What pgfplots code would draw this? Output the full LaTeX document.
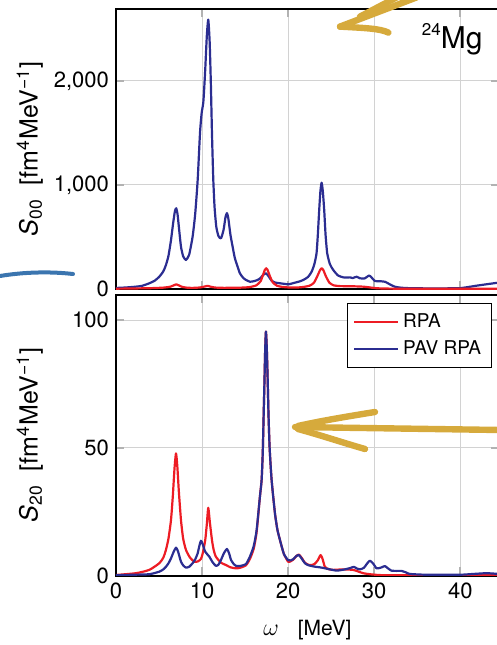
\documentclass[border=0pt]{standalone}
\usepackage{pgfplots}
\pgfplotsset{compat=1.18}
\usepackage{fontspec}
\setmainfont{TeX Gyre Heros}
\definecolor{rpared}{RGB}{237,28,36}
\definecolor{pavblue}{RGB}{43,45,145}
\definecolor{hlyellow}{RGB}{214,170,60}
\definecolor{hlblue}{RGB}{59,117,175}
\begin{document}
\begin{tikzpicture}
\path[use as bounding box] (0pt,0pt) rectangle (248.5pt,322.5pt);
\clip (0pt,0pt) rectangle (248.5pt,322.5pt);
\pgfplotsset{
  common/.style={scale only axis, width=191.5pt, xmin=0, xmax=44.5,
    xtick={0,10,20,30,40}, grid=major,
    grid style={gray!35, line width=0.5pt},
    axis line style={black, line width=1pt},
    tick style={gray!60, line width=0.8pt}, major tick length=4pt, tick align=inside,
    /pgf/number format/assume math mode=true,
    ticklabel style={font=\fontsize{11}{13}\selectfont},
    label style={font=\fontsize{12.5}{14}\selectfont},
    every axis plot/.append style={line width=1.1pt, line join=round},
    ylabel style={at={(axis description cs:-0.225,0.5)}, anchor=center},
  }
}
% ---------------- top axis: S00 ----------------
\begin{axis}[common, at={(58pt,178pt)}, anchor=south west, height=140pt,
  ymin=0, ymax=2692, ytick={0,1000,2000}, xticklabels={},
  ylabel={\textit{S}\textsubscript{00}\hspace{0.55em}[fm\textsuperscript{4}MeV\textsuperscript{−1}]}]
\addplot[pavblue, smooth, tension=0.35] coordinates {
(0,10) (1,14) (2,20) (3,30) (3.87,55) (4.5,80) (5.03,118) (5.5,170) (5.8,230) (6.1,320)
(6.39,470) (6.65,640) (6.85,750) (7.0,776) (7.15,720) (7.35,560) (7.55,407) (7.8,315)
(8.13,279) (8.5,330) (8.9,503) (9.2,720) (9.49,1048) (9.76,1500) (9.95,1690) (10.15,1800)
(10.35,2080) (10.55,2430) (10.72,2590) (10.88,2380) (11.02,1980) (11.15,1500) (11.3,1060)
(11.45,790) (11.65,600) (11.9,510) (12.2,487) (12.5,570) (12.72,690) (12.89,730) (13.05,680)
(13.3,520) (13.55,407) (13.8,300) (14.13,214) (14.4,150) (14.8,105) (15.1,87) (15.56,70)
(16.0,75) (16.4,85) (16.72,100) (17.1,135) (17.42,151) (17.75,120) (18.08,80) (18.5,62)
(19.05,55) (19.5,50) (20.02,45) (20.4,52) (20.79,61) (21.3,72) (21.76,87) (22.3,115)
(22.73,166) (23.05,240) (23.3,343) (23.45,520) (23.61,760) (23.75,940) (23.89,1022)
(24.03,940) (24.19,760) (24.35,520) (24.54,343) (24.85,240) (25.24,183) (25.8,130)
(26.4,112) (26.8,110) (27.18,112) (27.5,105) (27.95,118) (28.34,103) (28.9,102) (29.4,130)
(29.7,110) (30.08,77) (30.6,75) (31.24,70) (31.7,50) (32.4,22) (33.2,12) (34.15,8) (36,6)
(38,6) (39.95,8) (41,20) (41.9,32) (43,45) (44.5,62)
};
\addplot[rpared, smooth, tension=0.35] coordinates {
(0,3) (2,5) (4,8) (5.5,13) (6.3,22) (6.7,35) (7.0,45) (7.3,35) (7.7,20) (8.3,12) (9.0,11)
(9.8,15) (10.3,24) (10.65,30) (11.0,22) (11.5,14) (12.5,11) (13.5,12) (14.5,13) (15.5,18)
(16.3,35) (16.8,75) (17.1,140) (17.3,185) (17.45,199) (17.6,185) (17.85,130) (18.2,65)
(18.7,32) (19.3,20) (20.2,14) (21.0,14) (21.8,20) (22.5,32) (23.0,60) (23.4,125) (23.7,180)
(23.9,199) (24.1,180) (24.4,120) (24.8,60) (25.3,35) (26,28) (27,27) (28,25) (28.8,22)
(29.5,15) (30.2,8) (31,5) (33,3) (44.5,2)
};
\node[anchor=north east, inner sep=0pt, font=\fontsize{15}{15}\selectfont]
  at (rel axis cs:0.958,0.95) {{\fontsize{8.5}{8.5}\selectfont\raisebox{6.5pt}{24}}Mg};
\end{axis}
% ---------------- bottom axis: S20 ----------------
\begin{axis}[common, at={(58pt,34.75pt)}, anchor=south west, height=140.5pt,
  ymin=0, ymax=110, ytick={0,50,100},
  ylabel={\textit{S}\textsubscript{20}\hspace{0.55em}[fm\textsuperscript{4}MeV\textsuperscript{−1}]},
  xlabel={{\fontsize{13}{13}\selectfont$\omega$}\hspace{0.9em}[MeV]},
  xlabel style={at={(axis description cs:0.5,-0.194)}, anchor=center, font=\fontsize{10.5}{12}\selectfont},
  legend style={at={(rel axis cs:0.981,0.970)}, anchor=north east, draw=black, line width=0.6pt,
    font=\fontsize{9.5}{11}\selectfont, inner xsep=3pt, inner ysep=3pt, row sep=1pt},
  legend cell align=left,
  legend image code/.code={\draw[#1, line width=0.9pt] (0pt,0pt) -- (22pt,0pt);}]
\addplot[rpared, smooth, tension=0.35] coordinates {
(0,0.2) (2.32,0.9) (3.87,2.2) (5.03,4.8) (5.5,7.0) (5.8,10) (6.1,14.5) (6.39,21.7) (6.6,31)
(6.8,42) (6.97,47.8) (7.12,43) (7.3,33) (7.55,21.7) (7.8,14.5) (8.13,10) (8.6,7.0) (9.1,5.4)
(9.5,5.5) (9.87,6.5) (10.1,9) (10.37,13.9) (10.55,20) (10.72,26.5) (10.9,21) (11.15,13.9)
(11.35,10) (11.6,7.4) (12.2,5.0) (12.78,4.1) (13.3,3.2) (13.94,2.8) (14.4,3.0) (15.1,4.0)
(15.56,6.5) (16.0,10.5) (16.34,17.0) (16.72,30.8) (16.92,37.4) (17.05,48) (17.15,62)
(17.25,76) (17.33,88) (17.42,95.5) (17.52,89) (17.62,77) (17.72,63) (17.85,50) (18.08,37.4)
(18.47,24.3) (18.75,18) (19.05,13.9) (19.5,8.5) (20.0,5.4) (20.3,5.6) (20.6,6.2) (20.95,7.6)
(21.25,8.2) (21.6,6.8) (21.95,5.0) (22.35,4.2) (22.73,4.1) (23.1,4.6) (23.45,6.0) (23.77,8.0)
(24.0,6.5) (24.27,3.4) (24.7,2.5) (25.24,2.2) (26.4,2.4) (27.56,2.2) (28.2,1.5) (28.72,0.9)
(29.5,0.5) (30.5,0.2) (32,0.1) (44.5,0.1)
};
\addlegendentry{RPA}
\addplot[pavblue, smooth, tension=0.35] coordinates {
(0,0.1) (2,0.3) (3.87,0.5) (5.03,1.5) (5.5,2.4) (5.8,3.4) (6.1,4.8) (6.39,6.7) (6.7,9.3)
(6.97,10.9) (7.2,9.5) (7.55,5.4) (7.85,3.8) (8.13,3.1) (8.5,3.4) (8.9,4.8) (9.2,6.3) (9.49,8.7)
(9.7,11.8) (9.87,13.6) (10.05,12.5) (10.37,9.3) (10.84,7.4) (11.2,5.3) (11.6,3.8) (11.9,4.2)
(12.2,6.1) (12.55,8.8) (12.89,10.4) (13.15,8.6) (13.36,6.1) (13.7,4.4) (13.94,3.8) (14.4,3.7)
(15.1,4.5) (15.56,7.4) (16.0,11.5) (16.34,17.8) (16.72,30.8) (16.92,37.4) (17.05,48)
(17.15,62) (17.25,76) (17.33,88) (17.42,95.5) (17.52,89) (17.62,77) (17.72,63) (17.85,50)
(18.08,37.4) (18.47,24.3) (18.75,18) (19.05,13.9) (19.5,8.5) (20.0,6.0) (20.3,5.9) (20.6,6.4)
(20.95,7.6) (21.25,8.0) (21.6,6.5) (21.95,4.8) (22.3,4.1) (22.73,3.7) (23.2,3.4) (23.69,3.2)
(24.3,2.8) (24.85,2.4) (25.63,1.9) (26.1,2.1) (26.6,2.4) (27.2,2.9) (27.64,3.4) (28.0,2.7)
(28.34,2.4) (28.8,3.0) (29.2,4.8) (29.5,5.8) (29.85,4.8) (30.28,2.8) (30.8,3.1) (31.24,3.7)
(31.6,2.8) (32.0,1.9) (32.6,1.8) (33.18,1.8) (33.7,1.2) (34.15,0.6) (36,0.3) (39.95,0.3)
(41.5,0.6) (43.05,0.9) (44.5,0.6)
};
\addlegendentry{PAV RPA}
\end{axis}
% ---------------- hand-drawn highlights ----------------
\begin{scope}[hlyellow, line width=3.2pt, line cap=round, line join=round]
\draw (170pt,309.2pt) -- (208.3pt,323.8pt);
\draw (180pt,314.2pt) -- (198.3pt,323.8pt);
\draw (170pt,309.2pt) .. controls (182pt,308.5pt) and (190pt,308.3pt) .. (194.2pt,306.2pt);
\draw (147.5pt,109pt) -- (250pt,107.5pt);
\draw (149pt,109.5pt) .. controls (160pt,112pt) and (175pt,114.5pt) .. (187.5pt,116.5pt);
\draw (149pt,108pt) .. controls (160pt,105pt) and (172pt,101pt) .. (182.5pt,98pt);
\end{scope}
\draw[hlblue, line width=2pt, line cap=round] (0pt,184.5pt) .. controls (12pt,186.5pt) and (25pt,186.8pt) .. (36.5pt,185.5pt);
\end{tikzpicture}
\end{document}
